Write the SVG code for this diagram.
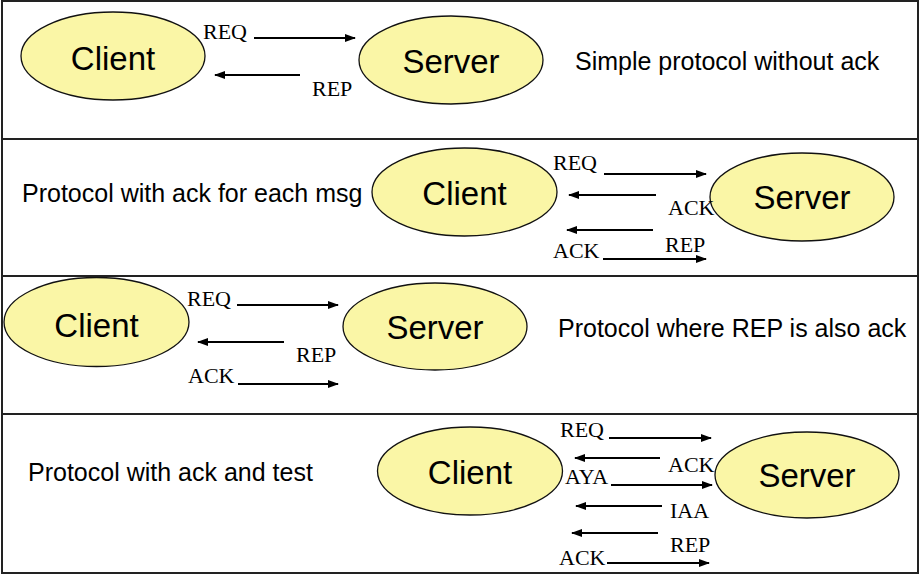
<svg xmlns="http://www.w3.org/2000/svg" width="920" height="575" viewBox="0 0 920 575">
<style>
.panel{fill:#fff;stroke:#222;stroke-width:2}
.node ellipse{fill:#FAF6A6;stroke:#111;stroke-width:1.3}
.node text{font-family:"Liberation Sans",Arial,sans-serif;font-size:33px;fill:#000;text-anchor:middle}
.cap{font-family:"Liberation Sans",Arial,sans-serif;font-size:25px;fill:#000}
.lbl{font-family:"Liberation Serif","Times New Roman",serif;font-size:22px;fill:#000}
.arr{stroke:#000;stroke-width:2.2;fill:none;marker-end:url(#ah)}
</style>
<defs>
<marker id="ah" viewBox="0 0 11 8" refX="10" refY="4" markerWidth="11" markerHeight="8" markerUnits="userSpaceOnUse" orient="auto">
<path d="M0,0 L11,4 L0,8 z" fill="#000"/>
</marker>
</defs>
<rect width="920" height="575" fill="#fff"/>
<g id="panels">
<rect class="panel" x="2" y="1" width="916" height="138"/>
<rect class="panel" x="2" y="139" width="916" height="137"/>
<rect class="panel" x="2" y="276" width="916" height="138"/>
<rect class="panel" x="2" y="414" width="916" height="159"/>
</g>
<g id="captions">
<text class="cap" x="575" y="70">Simple protocol without ack</text>
<text class="cap" x="22" y="202">Protocol with ack for each msg</text>
<text class="cap" x="558" y="337">Protocol where REP is also ack</text>
<text class="cap" x="28" y="481">Protocol with ack and test</text>
</g>
<g id="client1" class="node"><ellipse cx="113" cy="56" rx="92" ry="44"/><text x="113" y="70">Client</text></g>
<g id="server1" class="node"><ellipse cx="451" cy="60" rx="92" ry="44"/><text x="451" y="73">Server</text></g>
<g id="client2" class="node"><ellipse cx="464.5" cy="192" rx="92.5" ry="44"/><text x="464.5" y="205">Client</text></g>
<g id="server2" class="node"><ellipse cx="802" cy="197" rx="92" ry="44"/><text x="802" y="209">Server</text></g>
<g id="client3" class="node"><ellipse cx="96.5" cy="322" rx="92.5" ry="44.5"/><text x="96.5" y="337">Client</text></g>
<g id="server3" class="node"><ellipse cx="435" cy="326.5" rx="92" ry="43.5"/><text x="435" y="339">Server</text></g>
<g id="client4" class="node"><ellipse cx="470" cy="471" rx="92.5" ry="44"/><text x="470" y="484">Client</text></g>
<g id="server4" class="node"><ellipse cx="807" cy="475" rx="92" ry="43"/><text x="807" y="487">Server</text></g>
<g id="connectors">
<line class="arr" x1="254" y1="38" x2="355" y2="38"/>
<line class="arr" x1="300" y1="75" x2="215" y2="75"/>
<line class="arr" x1="604" y1="174" x2="706" y2="174"/>
<line class="arr" x1="656" y1="195" x2="569" y2="195"/>
<line class="arr" x1="653" y1="230" x2="567" y2="230"/>
<line class="arr" x1="603" y1="259" x2="706" y2="259"/>
<line class="arr" x1="237" y1="305" x2="338" y2="305"/>
<line class="arr" x1="284" y1="342" x2="198" y2="342"/>
<line class="arr" x1="238" y1="384" x2="338" y2="384"/>
<line class="arr" x1="609" y1="438" x2="711" y2="438"/>
<line class="arr" x1="660" y1="458" x2="575" y2="458"/>
<line class="arr" x1="611" y1="485" x2="712" y2="485"/>
<line class="arr" x1="662" y1="506" x2="576" y2="506"/>
<line class="arr" x1="658" y1="533" x2="572" y2="533"/>
<line class="arr" x1="607" y1="563" x2="709" y2="563"/>
</g>
<g id="labels">
<text class="lbl" x="203" y="39">REQ</text>
<text class="lbl" x="312" y="96">REP</text>
<text class="lbl" x="553" y="170">REQ</text>
<text class="lbl" x="668" y="215">ACK</text>
<text class="lbl" x="665" y="252">REP</text>
<text class="lbl" x="553" y="258">ACK</text>
<text class="lbl" x="187" y="306">REQ</text>
<text class="lbl" x="296" y="362">REP</text>
<text class="lbl" x="188" y="383">ACK</text>
<text class="lbl" x="560" y="437">REQ</text>
<text class="lbl" x="668" y="472">ACK</text>
<text class="lbl" x="565" y="484">AYA</text>
<text class="lbl" x="670" y="518">IAA</text>
<text class="lbl" x="670" y="552">REP</text>
<text class="lbl" x="559" y="565">ACK</text>
</g>
</svg>
